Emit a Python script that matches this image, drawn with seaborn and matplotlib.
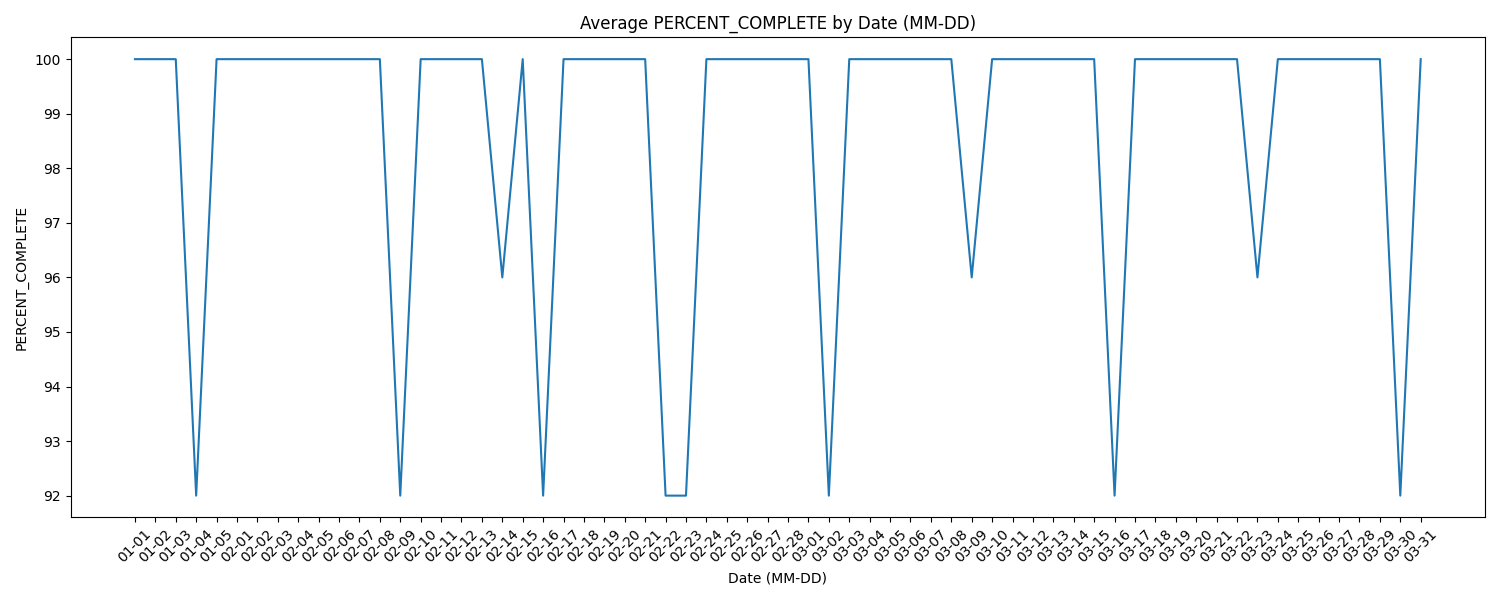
import matplotlib
matplotlib.use("Agg")
import matplotlib.pyplot as plt
import seaborn as sns
import pandas as pd

# ─── Data ────────────────────────────────────────────────────────────────────
dates = (
    [f"01-{d:02d}" for d in range(1, 6)]
    + [f"02-{d:02d}" for d in range(1, 29)]
    + [f"03-{d:02d}" for d in range(1, 32)]
)

jan_vals = [100, 100, 100, 92, 100]
feb_vals = [100, 100, 100, 100, 100, 100, 100, 100, 92, 100,
            100, 100, 100, 96, 100, 92, 100, 100, 100, 100,
            100, 92, 92, 100, 100, 100, 100, 100]
mar_vals = [100, 92, 100, 100, 100, 100, 100, 100, 96, 100,
            100, 100, 100, 100, 100, 92, 100, 100, 100, 100,
            100, 100, 96, 100, 100, 100, 100, 100, 100, 92,
            100]

pct_complete = jan_vals + feb_vals + mar_vals

df = pd.DataFrame({"date": dates, "PERCENT_COMPLETE": pct_complete})

# ─── Plot ────────────────────────────────────────────────────────────────────
fig, ax = plt.subplots(figsize=(15, 6), dpi=100)
sns.lineplot(data=df, x="date", y="PERCENT_COMPLETE", ax=ax)
ax.set_title("Average PERCENT_COMPLETE by Date (MM-DD)")
ax.set_xlabel("Date (MM-DD)")
ax.set_ylabel("PERCENT_COMPLETE")
plt.xticks(rotation=45)
plt.tight_layout()
plt.savefig("out.png", dpi=100)
plt.close()
